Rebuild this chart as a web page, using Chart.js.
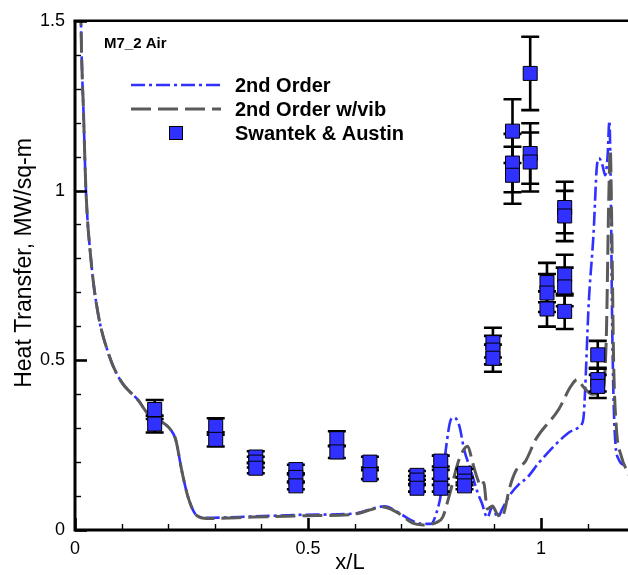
<!DOCTYPE html>
<html>
<head>
<meta charset="utf-8">
<script src="https://cdn.jsdelivr.net/npm/chart.js@4.4.0/dist/chart.umd.min.js"></script>
<style>
  html, body { margin: 0; padding: 0; background: #fff; overflow: hidden; }
  #wrap { width: 628px; height: 575px; overflow: hidden; position: relative; }
  canvas { display: block; }
</style>
</head>
<body>
<div id="wrap"><canvas id="chart" width="645" height="575"></canvas></div>
<script>
// Surface heat transfer along the model, M7_2 air condition.

// CFD, 2nd order
const orderX = [0.005, 0.0128, 0.0185, 0.0235, 0.034, 0.0485, 0.073, 0.098, 0.137, 0.155, 0.194, 0.205, 0.216,
  0.230, 0.244, 0.262, 0.283, 0.383, 0.497, 0.597, 0.647, 0.665, 0.690, 0.720, 0.745, 0.764, 0.775, 0.786,
  0.796, 0.807, 0.814, 0.825, 0.835, 0.850, 0.864, 0.873, 0.885, 0.896, 0.907, 0.917, 0.932, 0.953, 0.971,
  0.996, 1.060, 1.082, 1.087, 1.092, 1.103, 1.113, 1.120, 1.125, 1.132, 1.138, 1.143, 1.147, 1.150, 1.153,
  1.158, 1.167, 1.184, 1.200];
const orderQ = [2.5, 1.5, 1.22, 1.0, 0.80, 0.645, 0.515, 0.44, 0.38, 0.345, 0.311, 0.296, 0.267,
  0.169, 0.091, 0.042, 0.036, 0.040, 0.045, 0.048, 0.066, 0.070, 0.055, 0.030, 0.018, 0.018, 0.047, 0.111,
  0.238, 0.326, 0.331, 0.306, 0.238, 0.174, 0.111, 0.080, 0.037, 0.070, 0.037, 0.062, 0.100, 0.135, 0.155,
  0.199, 0.287, 0.303, 0.310, 0.340, 0.678, 0.874, 1.070, 1.095, 1.075, 1.045, 1.100, 1.205, 1.000, 0.600,
  0.300, 0.208, 0.189, 0.180];

// CFD, 2nd order with vibrational nonequilibrium
const vibX = [0.005, 0.0128, 0.0185, 0.0235, 0.034, 0.0485, 0.073, 0.098, 0.137, 0.155, 0.194, 0.205, 0.216,
  0.230, 0.244, 0.262, 0.283, 0.383, 0.497, 0.597, 0.640, 0.661, 0.680, 0.697, 0.725, 0.746, 0.775, 0.789,
  0.803, 0.825, 0.843, 0.853, 0.864, 0.871, 0.877, 0.885, 0.896, 0.905, 0.914, 0.921, 0.932, 0.946, 0.967,
  0.989, 1.038, 1.065, 1.078, 1.092, 1.110, 1.130, 1.140, 1.146, 1.149, 1.152, 1.156, 1.162, 1.172, 1.190];
const vibQ = [2.5, 1.5, 1.22, 1.0, 0.80, 0.645, 0.515, 0.44, 0.38, 0.345, 0.311, 0.296, 0.267,
  0.169, 0.091, 0.042, 0.034, 0.038, 0.042, 0.046, 0.062, 0.068, 0.060, 0.047, 0.020, 0.015, 0.022, 0.037,
  0.100, 0.210, 0.247, 0.200, 0.150, 0.130, 0.140, 0.062, 0.071, 0.050, 0.037, 0.052, 0.120, 0.174, 0.203,
  0.267, 0.355, 0.425, 0.443, 0.420, 0.400, 0.410, 0.550, 1.000, 1.120, 0.900, 0.500, 0.300, 0.220, 0.160];

// Swantek & Austin measurements with uncertainty
const expX = [0.171, 0.171, 0.302, 0.302, 0.388, 0.388, 0.388, 0.474, 0.474, 0.474, 0.562, 0.562,
  0.633, 0.633, 0.734, 0.734, 0.734, 0.785, 0.785, 0.785, 0.836, 0.836, 0.836, 0.897, 0.897, 0.897,
  0.939, 0.939, 0.939, 0.977, 0.977, 0.977, 1.013, 1.013, 1.013, 1.051, 1.051, 1.051, 1.051, 1.051,
  1.122, 1.122, 1.122];
const expQ = [0.355, 0.312, 0.305, 0.267, 0.215, 0.200, 0.182, 0.178, 0.155, 0.130, 0.269, 0.230,
  0.200, 0.163, 0.161, 0.147, 0.123, 0.203, 0.164, 0.123, 0.167, 0.144, 0.130, 0.552, 0.530, 0.506,
  1.175, 1.081, 1.045, 1.345, 1.109, 1.084, 0.729, 0.698, 0.651, 0.950, 0.925, 0.751, 0.716, 0.644,
  0.516, 0.443, 0.423];
const expErr = [0.028, 0.025, 0.024, 0.021, 0.017, 0.016, 0.015, 0.014, 0.012, 0.010, 0.022, 0.018,
  0.016, 0.013, 0.013, 0.012, 0.010, 0.016, 0.013, 0.010, 0.013, 0.012, 0.010, 0.044, 0.042, 0.040,
  0.094, 0.086, 0.084, 0.108, 0.089, 0.087, 0.058, 0.056, 0.052, 0.076, 0.074, 0.060, 0.057, 0.052,
  0.041, 0.035, 0.034];

// Axis ranges and labelled ticks
const xMajor = [0, 0.5, 1];
const yMajor = [0, 0.5, 1, 1.5];
const xMinorStep = 0.1;
const yMinorStep = 0.1;

const seriesNames = ['2nd Order', '2nd Order w/vib', 'Swantek & Austin'];
const caseLabel = 'M7_2 Air';
const xTitle = 'x/L';
const yTitle = 'Heat Transfer, MW/sq-m';

const FONT = '"Liberation Sans", Arial, Helvetica, sans-serif';
const BLUE = '#3030ff';
const GRAY = '#5a5a5a';

const toPts = (xs, ys) => xs.map((x, i) => ({ x: x, y: ys[i] }));

function tickLabel(majors) {
  return function (v) {
    const m = majors.find(t => Math.abs(t - v) < 1e-6);
    return m === undefined ? '' : String(m);
  };
}

function drawErrorBars(chart) {
  const ctx = chart.ctx, xs = chart.scales.x, ys = chart.scales.y;
  ctx.save();
  ctx.strokeStyle = '#000';
  ctx.lineWidth = 2.6;
  ctx.lineCap = 'butt';
  expX.forEach((x, i) => {
    const px = xs.getPixelForValue(x);
    const top = ys.getPixelForValue(expQ[i] + expErr[i]);
    const bot = ys.getPixelForValue(expQ[i] - expErr[i]);
    ctx.beginPath();
    ctx.moveTo(px, top); ctx.lineTo(px, bot);
    ctx.moveTo(px - 9, top); ctx.lineTo(px + 9, top);
    ctx.moveTo(px - 9, bot); ctx.lineTo(px + 9, bot);
    ctx.stroke();
  });
  ctx.restore();
}

const framePlugin = {
  id: 'frame',
  beforeDatasetDraw(chart, args) {
    if (args.index === 2) drawErrorBars(chart);
  },
  afterDraw(chart) {
    const ctx = chart.ctx, a = chart.chartArea;
    const xs = chart.scales.x, ys = chart.scales.y;
    ctx.save();
    ctx.strokeStyle = '#000';
    ctx.lineCap = 'butt';

    // inward tick marks
    for (let v = xs.min; v <= xs.max + 1e-9; v += xMinorStep) {
      const major = xMajor.some(t => Math.abs(t - v) < 1e-6);
      const px = Math.round(xs.getPixelForValue(v)) + 0.5;
      ctx.lineWidth = major ? 2.6 : 1.4;
      ctx.beginPath();
      ctx.moveTo(px, a.bottom);
      ctx.lineTo(px, a.bottom - (major ? 12 : 6));
      ctx.stroke();
    }
    for (let v = ys.min; v <= ys.max + 1e-9; v += yMinorStep) {
      const major = yMajor.some(t => Math.abs(t - v) < 1e-6);
      const py = Math.round(ys.getPixelForValue(v)) + 0.5;
      ctx.lineWidth = major ? 2.6 : 1.4;
      ctx.beginPath();
      ctx.moveTo(a.left, py);
      ctx.lineTo(a.left + (major ? 12 : 6), py);
      ctx.stroke();
    }

    // axis lines and top border
    ctx.lineWidth = 3;
    ctx.beginPath();
    ctx.moveTo(a.left, a.top); ctx.lineTo(a.left, a.bottom);
    ctx.moveTo(a.left - 1.5, a.bottom); ctx.lineTo(a.right, a.bottom);
    ctx.stroke();
    ctx.lineWidth = 2.6;
    ctx.beginPath();
    ctx.moveTo(a.left - 1.5, a.top); ctx.lineTo(a.right, a.top);
    ctx.stroke();

    // axis titles
    ctx.fillStyle = '#000';
    ctx.font = '22px ' + FONT;
    ctx.textAlign = 'center';
    ctx.textBaseline = 'middle';
    ctx.fillText(xTitle, 350, 563);
    ctx.save();
    ctx.font = '23px ' + FONT;
    ctx.translate(25, 263);
    ctx.rotate(-Math.PI / 2);
    ctx.fillText(yTitle, 0, 0);
    ctx.restore();

    // case label
    ctx.textAlign = 'left';
    ctx.font = 'bold 15px ' + FONT;
    ctx.fillText(caseLabel, 104, 44);

    // legend
    const ds = chart.data.datasets;
    const rows = [85, 109, 133];
    [0, 1].forEach(k => {
      ctx.save();
      ctx.strokeStyle = ds[k].borderColor;
      ctx.lineWidth = ds[k].borderWidth;
      ctx.setLineDash(ds[k].borderDash);
      ctx.beginPath();
      ctx.moveTo(131, rows[k]); ctx.lineTo(221, rows[k]);
      ctx.stroke();
      ctx.restore();
    });
    ctx.fillStyle = ds[2].backgroundColor;
    ctx.fillRect(169, rows[2] - 7, 14, 14);
    ctx.lineWidth = 1;
    ctx.strokeStyle = '#000';
    ctx.strokeRect(169.5, rows[2] - 6.5, 13, 13);

    ctx.fillStyle = '#000';
    ctx.font = 'bold 20px ' + FONT;
    seriesNames.forEach((s, k) => ctx.fillText(s, 235, rows[k] + 1));
    ctx.restore();
  }
};

new Chart(document.getElementById('chart'), {
  type: 'scatter',
  data: {
    datasets: [
      {
        label: seriesNames[0],
        data: toPts(orderX, orderQ),
        showLine: true,
        borderColor: BLUE,
        borderWidth: 2.6,
        borderDash: [14, 4, 3, 4],
        pointRadius: 0,
        cubicInterpolationMode: 'monotone',
        order: 2
      },
      {
        label: seriesNames[1],
        data: toPts(vibX, vibQ),
        showLine: true,
        borderColor: GRAY,
        borderWidth: 3,
        borderDash: [20, 7],
        pointRadius: 0,
        cubicInterpolationMode: 'monotone',
        order: 1
      },
      {
        label: seriesNames[2],
        data: toPts(expX, expQ),
        showLine: false,
        pointStyle: 'rect',
        pointRadius: 9.9,
        backgroundColor: BLUE,
        borderColor: '#000',
        borderWidth: 1,
        order: 0
      }
    ]
  },
  options: {
    responsive: false,
    animation: false,
    devicePixelRatio: 1,
    layout: { padding: { top: 20, right: 5, left: 0, bottom: 0 } },
    plugins: { legend: { display: false }, tooltip: { enabled: false } },
    scales: {
      x: {
        type: 'linear', min: 0, max: 1.2,
        afterFit(s) { s.height = 45; },
        grid: { display: false, drawTicks: false },
        border: { display: false },
        ticks: {
          stepSize: xMinorStep, autoSkip: false, maxRotation: 0, padding: 8,
          color: '#000', font: { family: FONT, size: 18 },
          callback: tickLabel(xMajor)
        }
      },
      y: {
        type: 'linear', min: 0, max: 1.5,
        afterFit(s) { s.width = 75; },
        grid: { display: false, drawTicks: false },
        border: { display: false },
        ticks: {
          stepSize: yMinorStep, autoSkip: false, padding: 10,
          color: '#000', font: { family: FONT, size: 18 },
          callback: tickLabel(yMajor)
        }
      }
    }
  },
  plugins: [framePlugin]
});
</script>
</body>
</html>
